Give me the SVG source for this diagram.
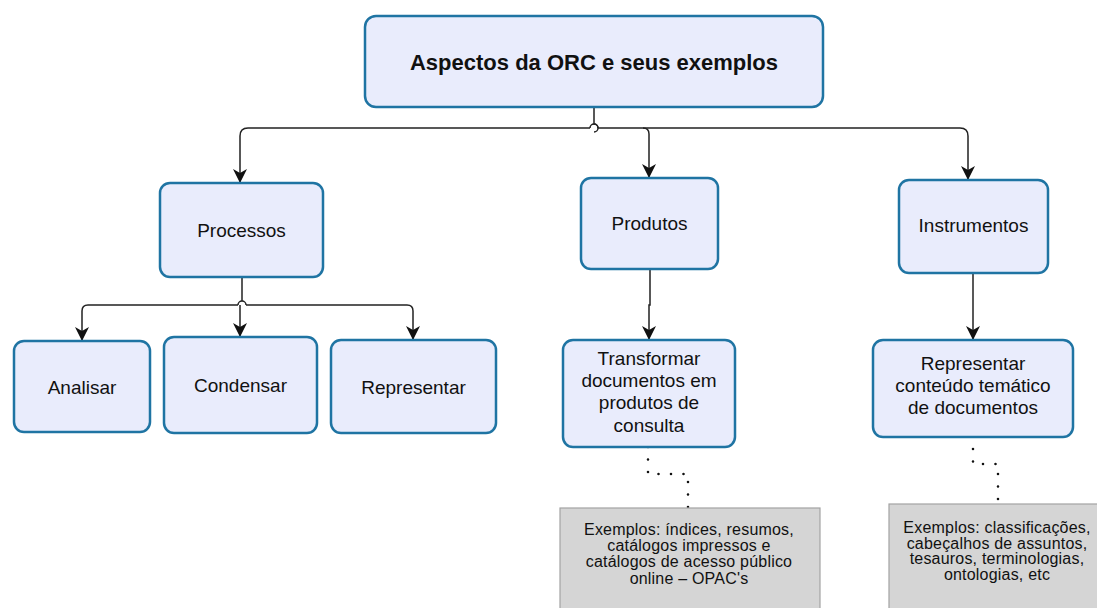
<svg xmlns="http://www.w3.org/2000/svg" width="1097" height="608" viewBox="0 0 1097 608">
<defs>
<style>
.n{fill:#e9ecfc;stroke:#1f74a3;stroke-width:2.5}
.t{font-family:"Liberation Sans",Arial,sans-serif;font-size:19px;fill:#111;text-anchor:middle}
.tb{font-family:"Liberation Sans",Arial,sans-serif;font-size:22px;font-weight:bold;fill:#111;text-anchor:middle}
.g{fill:#d5d5d5;stroke:#a3a3a3;stroke-width:1.2}
.gt{font-family:"Liberation Sans",Arial,sans-serif;font-size:16px;letter-spacing:0.2px;fill:#111;text-anchor:middle}
.c{fill:none;stroke:#222;stroke-width:1.5}
.d{fill:none;stroke:#111;stroke-width:2.6;stroke-linecap:round;stroke-dasharray:0,12.5}
</style>
<marker id="ah" viewBox="0 0 14 14" refX="14" refY="7" markerWidth="14" markerHeight="14" markerUnits="userSpaceOnUse" orient="auto">
<path d="M0,0 L14,7 L0,14 L4,7 Z" fill="#111"/>
</marker>
</defs>
<rect width="1097" height="608" fill="#fff"/>
<g id="connectors">
<path class="c" d="M594,107 V124 A4,4 0 0 1 594,132"/>
<path class="c" d="M590,128 H248 Q240,128 240,136 V183" marker-end="url(#ah)"/>
<path class="c" d="M598,128 H960 Q968,128 968,136 V180" marker-end="url(#ah)"/>
<path class="c" d="M590,128 A4,4 0 0 1 598,128"/>
<path class="c" d="M643,128 Q649,128 649,134 V178" marker-end="url(#ah)"/>
<path class="c" d="M242,277 V301"/>
<path class="c" d="M238,305 H88 Q82,305 82,311 V341" marker-end="url(#ah)"/>
<path class="c" d="M246,305 H407 Q413,305 413,311 V340" marker-end="url(#ah)"/>
<path class="c" d="M238,305 A4,4 0 0 1 246,305"/>
<path class="c" d="M240,305 V337" marker-end="url(#ah)"/>
<path class="c" d="M650,269 V305 H649 V340" marker-end="url(#ah)"/>
<path class="c" d="M973,273 V340" marker-end="url(#ah)"/>
<path class="d" d="M648,447 V474 H688 V508"/>
<path class="d" d="M973,449 V464 H998 V504"/>
</g>
<g id="root">
<rect class="n" x="365" y="16" width="458" height="91" rx="11"/>
<text class="tb" x="594" y="70">Aspectos da ORC e seus exemplos</text>
</g>
<g id="processos">
<rect class="n" x="160" y="183" width="163" height="94" rx="10"/>
<text class="t" x="241.5" y="237">Processos</text>
</g>
<g id="produtos">
<rect class="n" x="581" y="178" width="137" height="91" rx="10"/>
<text class="t" x="649.5" y="230">Produtos</text>
</g>
<g id="instrumentos">
<rect class="n" x="899" y="180" width="149" height="93" rx="10"/>
<text class="t" x="973.5" y="232">Instrumentos</text>
</g>
<g id="analisar">
<rect class="n" x="14" y="341" width="136" height="91" rx="10"/>
<text class="t" x="82" y="394">Analisar</text>
</g>
<g id="condensar">
<rect class="n" x="164" y="337" width="153" height="96" rx="10"/>
<text class="t" x="240.5" y="392">Condensar</text>
</g>
<g id="representar">
<rect class="n" x="331" y="340" width="165" height="93" rx="10"/>
<text class="t" x="413.5" y="394">Representar</text>
</g>
<g id="transformar">
<rect class="n" x="563" y="340" width="172" height="107" rx="10"/>
<text class="t" x="649" y="365">Transformar</text>
<text class="t" x="649" y="387">documentos em</text>
<text class="t" x="649" y="409">produtos de</text>
<text class="t" x="649" y="432">consulta</text>
</g>
<g id="representar-conteudo">
<rect class="n" x="873" y="340" width="200" height="97" rx="10"/>
<text class="t" x="973" y="370">Representar</text>
<text class="t" x="973" y="392">conteúdo temático</text>
<text class="t" x="973" y="414">de documentos</text>
</g>
<g id="exemplos-produtos">
<rect class="g" x="560" y="508" width="260" height="110"/>
<text class="gt" x="689" y="535">Exemplos: índices, resumos,</text>
<text class="gt" x="689" y="551">catálogos impressos e</text>
<text class="gt" x="689" y="567">catálogos de acesso público</text>
<text class="gt" x="689" y="584">online – OPAC's</text>
</g>
<g id="exemplos-instrumentos">
<rect class="g" x="889" y="504" width="220" height="114"/>
<text class="gt" x="997" y="533">Exemplos: classificações,</text>
<text class="gt" x="997" y="549">cabeçalhos de assuntos,</text>
<text class="gt" x="997" y="564">tesauros, terminologias,</text>
<text class="gt" x="997" y="580">ontologias, etc</text>
</g>
</svg>
